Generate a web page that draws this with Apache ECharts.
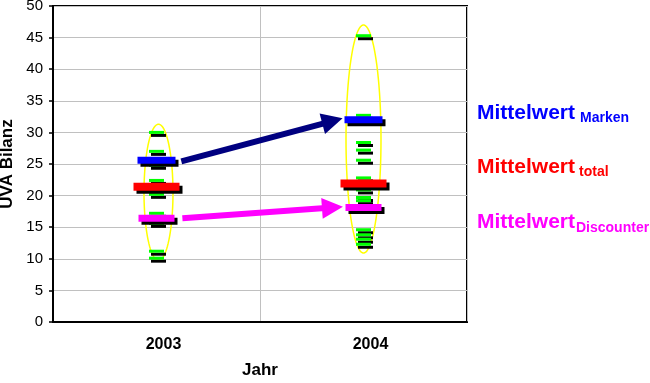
<!DOCTYPE html>
<html><head><meta charset="utf-8">
<script src="https://cdn.jsdelivr.net/npm/echarts@6/dist/echarts.min.js"></script>
<style>html,body{margin:0;padding:0;background:#fff}#c{width:650px;height:383px}</style>
</head><body><div id="c"></div>
<script>
// ---- data ----
const categories = ['2003', '2004'];
const values2003 = [30.0, 27.0, 24.8, 22.4, 20.2, 17.2, 15.6, 11.2, 10.1];
const values2004 = [45.3, 32.7, 28.4, 27.2, 25.6, 22.8, 20.9, 19.7, 19.2, 14.6, 13.8, 13.1, 12.3];
const meanMarken = [25.6, 32.0];
const meanTotal = [21.4, 21.9];
const meanDiscounter = [16.4, 18.1];
const ellipseTop = [31.3, 47.0];
const ellipseBottom = [9.7, 10.9];
const yMin = 0, yMax = 50, yStep = 5;
const legendMain = 'Mittelwert';
const legendSubs = ['Marken', 'total', 'Discounter'];
const yName = 'UVA Bilanz';
const xName = 'Jahr';

// ---- build ----
const FONT = '"Liberation Sans", Arial, sans-serif';
const pts = [];
values2003.forEach(v => pts.push([categories[0], v]));
values2004.forEach(v => pts.push([categories[1], v]));

function meanSeries(arr, color, size) {
  return {
    type: 'scatter', xAxisIndex: 0, z: 5,
    symbol: 'rect', symbolSize: size,
    data: arr.map((v, i) => [categories[i], v]),
    itemStyle: { color: color, opacity: 1, shadowColor: '#000', shadowOffsetX: 3, shadowOffsetY: 3, shadowBlur: 0 },
    emphasis: { disabled: true }, animation: false
  };
}

const ellipseData = categories.map((c, i) => [i, ellipseTop[i], ellipseBottom[i]]);
const ellipseRx = [14.5, 17.5];

const option = {
  animation: false,
  backgroundColor: '#fff',
  grid: { left: 53, right: 183, top: 6, bottom: 61, show: true, borderColor: '#000', borderWidth: 2, backgroundColor: 'transparent', containLabel: false, outerBoundsMode: 'none' },
  xAxis: [{
    type: 'category', data: categories, position: 'bottom',
    axisLine: { lineStyle: { color: '#000', width: 2 } },
    axisTick: { show: false },
    splitLine: { show: true, lineStyle: { color: '#c0c0c0', width: 1 } },
    axisLabel: { color: '#000', fontFamily: FONT, fontWeight: 'bold', fontSize: 16, margin: 15, padding: [0, 0, 0, 14] },
    name: xName, nameLocation: 'middle', nameGap: 40,
    nameTextStyle: { color: '#000', fontFamily: FONT, fontWeight: 'bold', fontSize: 17 }
  }, {
    type: 'value', min: -0.5, max: 1.5, show: false
  }],
  yAxis: {
    type: 'value', min: yMin, max: yMax, interval: yStep,
    axisLine: { show: true, onZero: false, lineStyle: { color: '#000', width: 2 } },
    axisTick: { show: true, length: 4, lineStyle: { color: '#000', width: 1.5 } },
    splitLine: { show: true, lineStyle: { color: '#c0c0c0', width: 1 } },
    axisLabel: { color: '#000', fontFamily: FONT, fontSize: 15, margin: 10 },
    name: yName, nameLocation: 'middle', nameGap: 34, nameRotate: 90,
    nameTextStyle: { color: '#000', fontFamily: FONT, fontWeight: 'bold', fontSize: 17 }
  },
  series: [
    {
      type: 'custom', xAxisIndex: 1, z: 1, silent: true,
      data: ellipseData,
      renderItem: function (params, api) {
        const i = api.value(0);
        const top = api.coord([i, api.value(1)]);
        const bot = api.coord([i, api.value(2)]);
        const cx = top[0] + (i === 0 ? 2 : 0);
        const cy = (top[1] + bot[1]) / 2;
        const ry = Math.abs(bot[1] - top[1]) / 2;
        const rx = ellipseRx[i];
        const points = [];
        for (let k = 0; k <= 90; k++) {
          const a = k / 90 * Math.PI * 2;
          points.push([cx + rx * Math.cos(a), cy + ry * Math.sin(a)]);
        }
        return { type: 'polygon', shape: { points: points }, style: { fill: 'none', stroke: '#ffff00', lineWidth: 1.5 }, z2: 1 };
      }
    },
    {
      type: 'scatter', xAxisIndex: 0, z: 3,
      symbol: 'rect', symbolSize: [15, 3],
      data: pts,
      itemStyle: { color: '#00ff00', opacity: 1, shadowColor: '#000', shadowOffsetX: 2, shadowOffsetY: 3, shadowBlur: 0 },
      emphasis: { disabled: true }
    },
    meanSeries(meanTotal, '#ff0000', [46, 8]),
    meanSeries(meanMarken, '#0000ff', [38, 7]),
    meanSeries(meanDiscounter, '#ff00ff', [36, 7]),
    {
      type: 'lines', coordinateSystem: 'cartesian2d', xAxisIndex: 1, yAxisIndex: 0, z: 6,
      symbol: ['none', 'triangle'], symbolSize: 21,
      lineStyle: { width: 6, opacity: 1, curveness: 0 },
      data: [
        { coords: [[0.12, meanMarken[0] - 0.2], [0.85, meanMarken[1] - 0.2]], lineStyle: { color: '#000080' } },
        { coords: [[0.125, meanDiscounter[0]], [0.85, meanDiscounter[1]]], lineStyle: { color: '#ff00ff' } }
      ],
      silent: true
    }
  ],
  graphic: [
    { type: 'text', x: 477, y: 113, style: { text: legendMain, fill: '#0000ff', font: 'bold 21px ' + FONT, textVerticalAlign: 'middle', verticalAlign: 'middle' } },
    { type: 'text', x: 580, y: 118, style: { text: legendSubs[0], fill: '#0000ff', font: 'bold 14px ' + FONT, textVerticalAlign: 'middle', verticalAlign: 'middle' } },
    { type: 'text', x: 477, y: 167.5, style: { text: legendMain, fill: '#ff0000', font: 'bold 21px ' + FONT, textVerticalAlign: 'middle', verticalAlign: 'middle' } },
    { type: 'text', x: 579, y: 172, style: { text: legendSubs[1], fill: '#ff0000', font: 'bold 14px ' + FONT, textVerticalAlign: 'middle', verticalAlign: 'middle' } },
    { type: 'text', x: 477, y: 222.5, style: { text: legendMain, fill: '#ff00ff', font: 'bold 21px ' + FONT, textVerticalAlign: 'middle', verticalAlign: 'middle' } },
    { type: 'text', x: 576, y: 228, style: { text: legendSubs[2], fill: '#ff00ff', font: 'bold 14px ' + FONT, textVerticalAlign: 'middle', verticalAlign: 'middle' } }
  ]
};
const chart = echarts.init(document.getElementById('c'), null, { renderer: 'canvas' });
chart.setOption(option);
</script>
</body></html>
